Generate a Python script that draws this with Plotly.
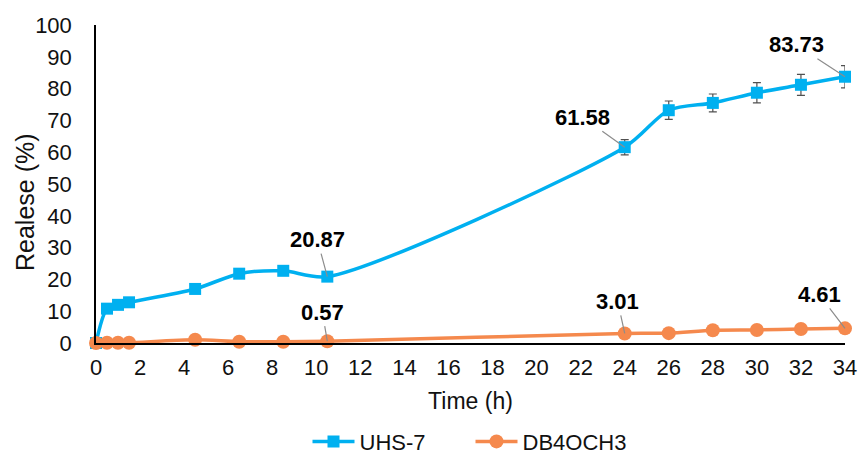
import plotly.graph_objects as go

# Release time points (h)
time_h = [0, 0.5, 1, 1.5, 4.5, 6.5, 8.5, 10.5, 24, 26, 28, 30, 32, 34]

# Cumulative release (%)
uhs7 = [0, 10.8, 12.0, 12.8, 17.0, 21.8, 22.7, 20.87, 61.58, 73.2, 75.5, 78.7, 81.2, 83.73]
uhs7_err = [0, 0, 0, 0, 0, 0, 0, 0, 2.4, 2.9, 2.8, 3.2, 3.3, 3.5]

db4och3 = [0, 0.1, 0.1, 0.1, 1.0, 0.4, 0.4, 0.57, 3.01, 3.1, 4.0, 4.1, 4.4, 4.61]
db4och3_err = [0, 0, 0, 0, 0, 0, 0, 0, 0.6, 0.8, 1.3, 1.3, 1.4, 1.5]

# Indices of the values written next to the curves, with label offsets (px)
offsets_uhs = {7: (-10, -37), 8: (-42, -30), 13: (-49, -32)}
offsets_db = {7: (-5, -29), 8: (-7, -32), 13: (-26, -34)}

BLUE = "#00B0F0"
ORANGE = "#F5894D"
FONT = "Liberation Sans, Arial, sans-serif"

fig = go.Figure()

fig.add_trace(go.Scatter(
    x=time_h, y=uhs7, name="UHS-7", mode="lines+markers",
    line=dict(color=BLUE, width=3.5, shape="spline", smoothing=0.8),
    marker=dict(symbol="square", size=12, color=BLUE),
    error_y=dict(type="data", array=uhs7_err, color="#505050", thickness=1.2, width=4),
    cliponaxis=False,
))
fig.add_trace(go.Scatter(
    x=time_h, y=db4och3, name="DB4OCH3", mode="lines+markers",
    line=dict(color=ORANGE, width=3.5, shape="spline", smoothing=0.8),
    marker=dict(symbol="circle", size=14, color=ORANGE),
    error_y=dict(type="data", array=db4och3_err, color="#505050", thickness=1.2, width=4),
    cliponaxis=False,
))

annotations = []
for series, offs in ((uhs7, offsets_uhs), (db4och3, offsets_db)):
    for i, (ax, ay) in offs.items():
        annotations.append(dict(
            x=time_h[i], y=series[i], text=f"<b>{series[i]:.2f}</b>",
            showarrow=True, arrowhead=0, arrowwidth=1.2, arrowcolor="#8c8c8c",
            ax=ax, ay=ay, standoff=0,
            font=dict(family=FONT, size=22, color="#000000"),
        ))

# Vertical axis title
annotations.append(dict(
    text="Realese (%)", textangle=-90, showarrow=False,
    xref="paper", yref="paper", x=0, y=0.5, xanchor="center", yanchor="middle",
    xshift=-71, yshift=-18, font=dict(family=FONT, size=25, color="#111111"),
))

fig.update_layout(
    width=860, height=458,
    margin=dict(l=96, r=15, t=25, b=115, autoexpand=False),
    paper_bgcolor="white", plot_bgcolor="white",
    font=dict(family=FONT, size=22, color="#111111"),
    showlegend=True,
    legend=dict(orientation="h", x=0.5, xanchor="center", y=-0.31, yanchor="middle",
                font=dict(size=22), itemwidth=42,
                entrywidth=106, entrywidthmode="pixels"),
    annotations=annotations,
    xaxis=dict(
        range=[0, 34], tickmode="linear", tick0=0, dtick=2,
        showline=True, linecolor="black", linewidth=1.5,
        showgrid=False, zeroline=False, ticks="", ticklabelstandoff=4,
        title=dict(text="Time (h)", standoff=14, font=dict(size=23)),
    ),
    yaxis=dict(
        range=[0, 100], tickmode="linear", tick0=0, dtick=10,
        showline=True, linecolor="black", linewidth=1.5,
        showgrid=False, zeroline=False, ticks="", ticklabelstandoff=18,
    ),
)

fig.write_html("out.html")
